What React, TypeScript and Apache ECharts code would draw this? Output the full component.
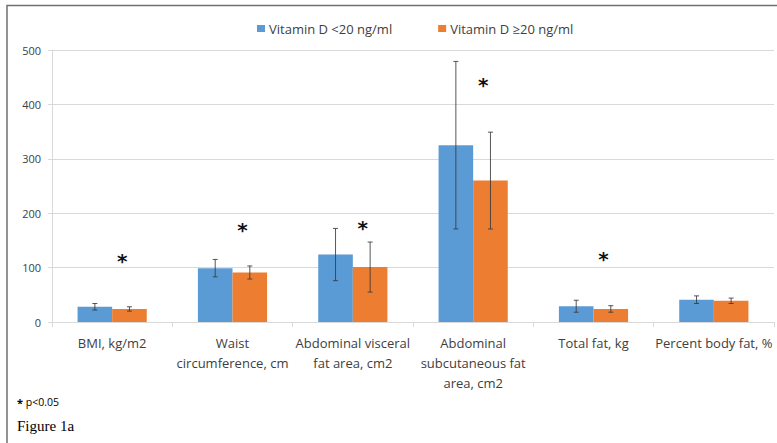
import React, { useEffect, useRef } from "react";
import * as echarts from "echarts";

const categories = [
  "BMI, kg/m2",
  "Waist\ncircumference, cm",
  "Abdominal visceral\nfat area, cm2",
  "Abdominal\nsubcutaneous fat\narea, cm2",
  "Total fat, kg",
  "Percent body fat, %",
];
const seriesNames = ["Vitamin D <20 ng/ml", "Vitamin D ≥20 ng/ml"];
const lowVitD = [28, 99, 124, 325, 29, 41];
const lowVitDErr = [6, 16, 48, 154, 11, 7];
const highVitD = [24, 91, 101, 260, 24, 39];
const highVitDErr = [4, 12, 46, 89, 6, 5];
// heights (in y-axis units) of the significance asterisks, per category (null = none)
const starHeights: (number | null)[] = [118, 175, 178, 441, 121, null];
const yTicks = { min: 0, max: 500, interval: 100 };

const BLUE = "#5B9BD5";
const ORANGE = "#ED7D31";
const GAP = 0.425;
const FONT = "Open Sans";

export default function App() {
  const ref = useRef<HTMLDivElement>(null);
  useEffect(() => {
    if (!ref.current) return;
    const chart = echarts.init(ref.current, null, { renderer: "svg" });

    const errData = (vals: number[], errs: number[]) =>
      vals.map((v, i) => [i, v - errs[i], v + errs[i]]);

    const makeErrRender = (side: number) => (params: any, api: any) => {
      const idx = api.value(0);
      const lo = api.value(1);
      const hi = api.value(2);
      const band = api.size([1, 0])[0];
      const barW = (band * (1 - GAP)) / 2;
      const pTop = api.coord([idx, hi]);
      const pBot = api.coord([idx, lo]);
      const x = pTop[0] + (side * barW) / 2;
      const cap = 2.5;
      const style = { stroke: "#3a3a3a", lineWidth: 1, opacity: 0.85 };
      return {
        type: "group",
        children: [
          { type: "line", shape: { x1: x, y1: pTop[1], x2: x, y2: pBot[1] }, style },
          { type: "line", shape: { x1: x - cap, y1: pTop[1], x2: x + cap, y2: pTop[1] }, style },
          { type: "line", shape: { x1: x - cap, y1: pBot[1], x2: x + cap, y2: pBot[1] }, style },
        ],
      };
    };

    const starData = starHeights
      .map((h, i) => (h == null ? null : [i, h]))
      .filter((d) => d !== null);

    chart.setOption({
      animation: false,
      backgroundColor: "#ffffff",
      legend: {
        left: 257,
        top: 22,
        padding: 0,
        itemWidth: 8,
        itemHeight: 7,
        itemGap: 46,
        icon: "rect",
        textStyle: { fontFamily: FONT, fontSize: 13, color: "#404040", padding: [0, 0, 0, -1] },
        data: seriesNames,
      },
      grid: { left: 52, right: 3, top: 50, bottom: 121, containLabel: false },
      xAxis: {
        type: "category",
        data: categories,
        axisLine: { lineStyle: { color: "#d9d9d9", width: 1 } },
        axisTick: { show: true, length: 5, lineStyle: { color: "#d9d9d9" } },
        axisLabel: {
          interval: 0,
          fontFamily: FONT,
          fontSize: 13,
          color: "#404040",
          lineHeight: 20,
          margin: 11,
        },
      },
      yAxis: {
        type: "value",
        min: yTicks.min,
        max: yTicks.max,
        interval: yTicks.interval,
        axisLine: { show: true, lineStyle: { color: "#d9d9d9" } },
        axisTick: { show: true, length: 4, lineStyle: { color: "#d9d9d9" } },
        splitLine: { lineStyle: { color: "#d9d9d9" } },
        axisLabel: { fontFamily: FONT, fontSize: 11, color: "#404040", margin: 11 },
      },
      series: [
        {
          name: seriesNames[0],
          type: "bar",
          data: lowVitD,
          itemStyle: { color: BLUE },
          barGap: "0%",
          barCategoryGap: GAP * 100 + "%",
        },
        {
          name: seriesNames[1],
          type: "bar",
          data: highVitD,
          itemStyle: { color: ORANGE },
          barGap: "0%",
          barCategoryGap: GAP * 100 + "%",
        },
        {
          type: "custom",
          renderItem: makeErrRender(-1),
          data: errData(lowVitD, lowVitDErr),
          z: 5,
          silent: true,
        },
        {
          type: "custom",
          renderItem: makeErrRender(1),
          data: errData(highVitD, highVitDErr),
          z: 5,
          silent: true,
        },
        {
          type: "custom",
          data: starData,
          z: 6,
          silent: true,
          renderItem: (params: any, api: any) => {
            const p = api.coord([api.value(0), api.value(1)]);
            return {
              type: "text",
              x: p[0] + 10,
              y: p[1] + 3,
              style: {
                text: "*",
                fontFamily: "DejaVu Sans",
                fontWeight: "bold",
                fontSize: 20,
                fill: "#111111",
                align: "center",
                verticalAlign: "middle",
              },
            };
          },
        },
      ],
      graphic: [
        {
          type: "rect",
          shape: { x: 7, y: 5.5, width: 800, height: 460 },
          style: { fill: "none", stroke: "#707070", lineWidth: 1.5 },
          silent: true,
        },
        {
          type: "text",
          x: 17,
          y: 402,
          style: {
            text: "{b|*} p<0.05",
            rich: { b: { fontWeight: "bold", fontFamily: FONT, fontSize: 11, fill: "#000" } },
            fontFamily: FONT,
            fontSize: 10.5,
            fill: "#000",
            verticalAlign: "middle",
          },
        },
        {
          type: "text",
          x: 17,
          y: 426,
          style: {
            text: "Figure 1a",
            fontFamily: "Liberation Serif",
            fontSize: 15,
            fill: "#000",
            verticalAlign: "middle",
          },
        },
      ],
    });
    return () => chart.dispose();
  }, []);
  return (
    <div
      ref={ref}
      style={{ position: "absolute", left: 0, top: 0, width: 777, height: 443, background: "#fff" }}
    />
  );
}
